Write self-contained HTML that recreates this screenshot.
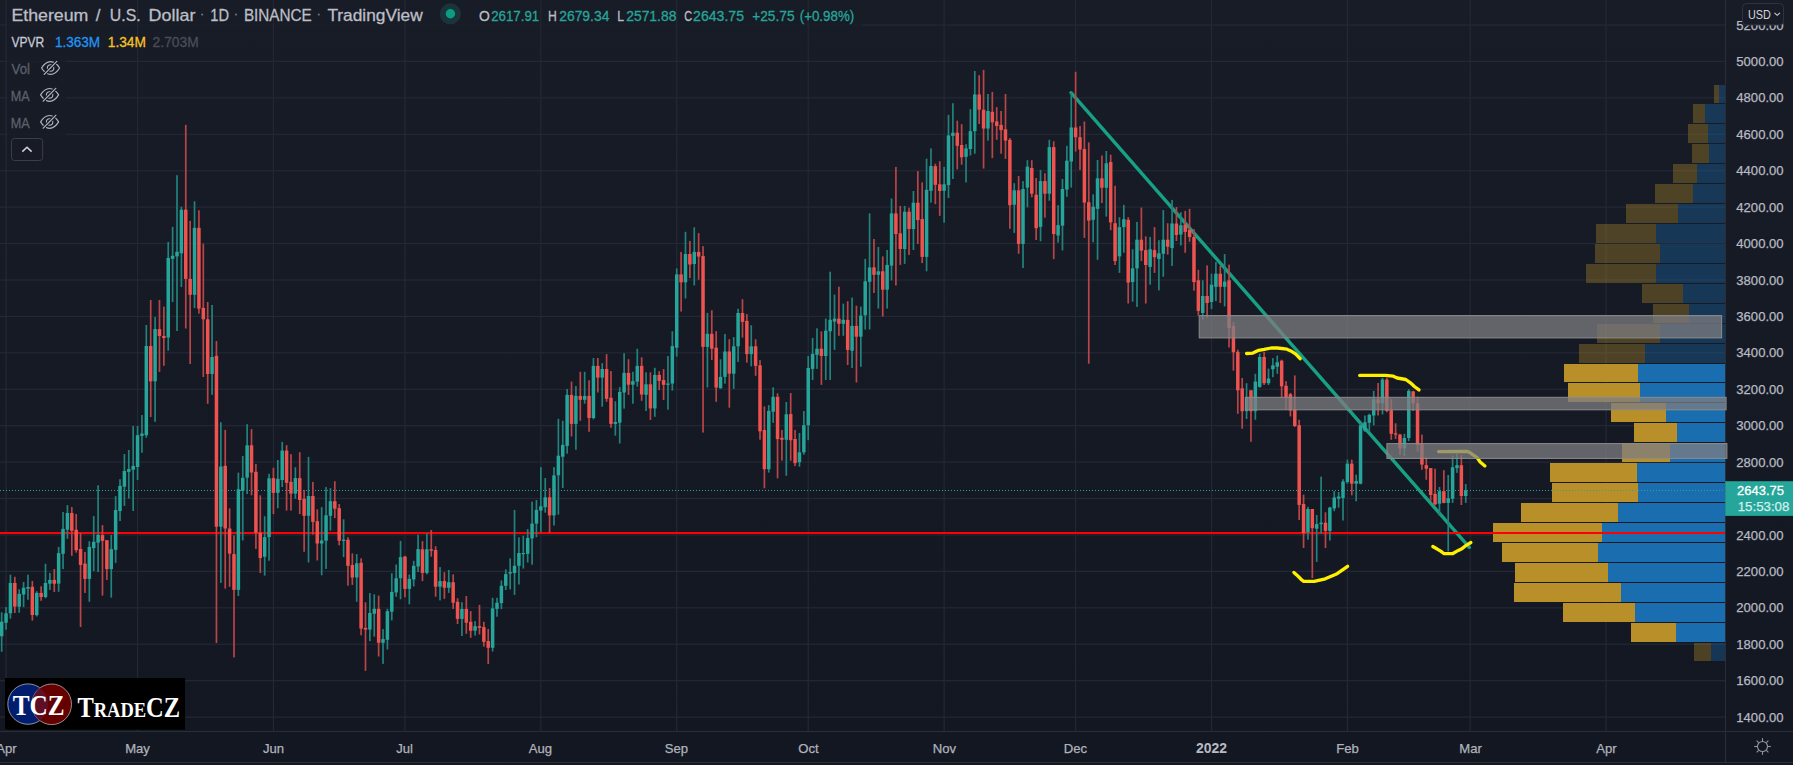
<!DOCTYPE html><html><head><meta charset="utf-8"><style>html,body{margin:0;padding:0;background:#181b26;overflow:hidden;width:1793px;height:765px;}svg{display:block} text{font-family:"Liberation Sans",Arial,sans-serif}</style></head><body>
<svg width="1793" height="765" viewBox="0 0 1793 765">
<defs><linearGradient id="bgg" gradientUnits="userSpaceOnUse" x1="0" y1="0" x2="0" y2="765"><stop offset="0" stop-color="#181c27"/><stop offset="1" stop-color="#131722"/></linearGradient></defs>
<rect width="1793" height="765" fill="url(#bgg)"/>
<rect x="0" y="24.4" width="7" height="1.2" fill="#242835"/>
<rect x="7" y="24.4" width="855" height="1.2" fill="#242835" fill-opacity="0.3"/>
<rect x="862" y="24.4" width="863" height="1.2" fill="#242835"/>
<rect x="0" y="60.8" width="7" height="1.2" fill="#242835"/>
<rect x="7" y="60.8" width="59" height="1.2" fill="#242835" fill-opacity="0.3"/>
<rect x="66" y="60.8" width="1659" height="1.2" fill="#242835"/>
<rect x="0" y="97.2" width="7" height="1.2" fill="#242835"/>
<rect x="7" y="97.2" width="59" height="1.2" fill="#242835" fill-opacity="0.3"/>
<rect x="66" y="97.2" width="1659" height="1.2" fill="#242835"/>
<rect x="0" y="133.7" width="7" height="1.2" fill="#242835"/>
<rect x="7" y="133.7" width="59" height="1.2" fill="#242835" fill-opacity="0.3"/>
<rect x="66" y="133.7" width="1659" height="1.2" fill="#242835"/>
<rect x="0" y="170.1" width="1725" height="1.2" fill="#242835"/>
<rect x="0" y="206.5" width="1725" height="1.2" fill="#242835"/>
<rect x="0" y="242.9" width="1725" height="1.2" fill="#242835"/>
<rect x="0" y="279.4" width="1725" height="1.2" fill="#242835"/>
<rect x="0" y="315.8" width="1725" height="1.2" fill="#242835"/>
<rect x="0" y="352.2" width="1725" height="1.2" fill="#242835"/>
<rect x="0" y="388.7" width="1725" height="1.2" fill="#242835"/>
<rect x="0" y="425.1" width="1725" height="1.2" fill="#242835"/>
<rect x="0" y="461.5" width="1725" height="1.2" fill="#242835"/>
<rect x="0" y="497.9" width="1725" height="1.2" fill="#242835"/>
<rect x="0" y="534.4" width="1725" height="1.2" fill="#242835"/>
<rect x="0" y="570.8" width="1725" height="1.2" fill="#242835"/>
<rect x="0" y="607.2" width="1725" height="1.2" fill="#242835"/>
<rect x="0" y="643.6" width="1725" height="1.2" fill="#242835"/>
<rect x="0" y="680.1" width="1725" height="1.2" fill="#242835"/>
<rect x="0" y="716.5" width="1725" height="1.2" fill="#242835"/>
<rect x="5.45" y="0" width="1.2" height="731" fill="#242835"/>
<rect x="136.96" y="0" width="1.2" height="731" fill="#242835"/>
<rect x="272.84" y="0" width="1.2" height="731" fill="#242835"/>
<rect x="404.35" y="0" width="1.2" height="731" fill="#242835"/>
<rect x="540.24" y="0" width="1.2" height="731" fill="#242835"/>
<rect x="676.13" y="0" width="1.2" height="731" fill="#242835"/>
<rect x="807.63" y="0" width="1.2" height="731" fill="#242835"/>
<rect x="943.52" y="0" width="1.2" height="731" fill="#242835"/>
<rect x="1075.02" y="0" width="1.2" height="731" fill="#242835"/>
<rect x="1210.91" y="0" width="1.2" height="731" fill="#242835"/>
<rect x="1346.80" y="0" width="1.2" height="731" fill="#242835"/>
<rect x="1469.54" y="0" width="1.2" height="731" fill="#242835"/>
<rect x="1605.43" y="0" width="1.2" height="731" fill="#242835"/>
<rect x="1714" y="85" width="5" height="18" fill="rgba(184,143,41,0.35)"/>
<rect x="1719" y="85" width="6" height="18" fill="rgba(26,109,174,0.36)"/>
<rect x="1693" y="104" width="12" height="19" fill="rgba(184,143,41,0.35)"/>
<rect x="1705" y="104" width="20" height="19" fill="rgba(26,109,174,0.36)"/>
<rect x="1688" y="124" width="20" height="19" fill="rgba(184,143,41,0.35)"/>
<rect x="1708" y="124" width="17" height="19" fill="rgba(26,109,174,0.36)"/>
<rect x="1692" y="144" width="17" height="19" fill="rgba(184,143,41,0.35)"/>
<rect x="1709" y="144" width="16" height="19" fill="rgba(26,109,174,0.36)"/>
<rect x="1673" y="164" width="24" height="19" fill="rgba(184,143,41,0.35)"/>
<rect x="1697" y="164" width="28" height="19" fill="rgba(26,109,174,0.36)"/>
<rect x="1655" y="184" width="38" height="19" fill="rgba(184,143,41,0.35)"/>
<rect x="1693" y="184" width="32" height="19" fill="rgba(26,109,174,0.36)"/>
<rect x="1626" y="204" width="52" height="19" fill="rgba(184,143,41,0.35)"/>
<rect x="1678" y="204" width="47" height="19" fill="rgba(26,109,174,0.36)"/>
<rect x="1596" y="224" width="60" height="19" fill="rgba(184,143,41,0.35)"/>
<rect x="1656" y="224" width="69" height="19" fill="rgba(26,109,174,0.36)"/>
<rect x="1595" y="244" width="65" height="19" fill="rgba(184,143,41,0.35)"/>
<rect x="1660" y="244" width="65" height="19" fill="rgba(26,109,174,0.36)"/>
<rect x="1586" y="264" width="70" height="19" fill="rgba(184,143,41,0.35)"/>
<rect x="1656" y="264" width="69" height="19" fill="rgba(26,109,174,0.36)"/>
<rect x="1642" y="284" width="41" height="19" fill="rgba(184,143,41,0.35)"/>
<rect x="1683" y="284" width="42" height="19" fill="rgba(26,109,174,0.36)"/>
<rect x="1653" y="304" width="36" height="19" fill="rgba(184,143,41,0.35)"/>
<rect x="1689" y="304" width="36" height="19" fill="rgba(26,109,174,0.36)"/>
<rect x="1597" y="324" width="63" height="19" fill="rgba(184,143,41,0.35)"/>
<rect x="1660" y="324" width="65" height="19" fill="rgba(26,109,174,0.36)"/>
<rect x="1579" y="344" width="66" height="19" fill="rgba(184,143,41,0.35)"/>
<rect x="1645" y="344" width="80" height="19" fill="rgba(26,109,174,0.36)"/>
<rect x="1564" y="364" width="74" height="18" fill="#b88f29"/>
<rect x="1638" y="364" width="87" height="18" fill="#1a6dae"/>
<rect x="1568" y="383" width="72" height="19" fill="#b88f29"/>
<rect x="1640" y="383" width="85" height="19" fill="#1a6dae"/>
<rect x="1611" y="403" width="55" height="19" fill="#b88f29"/>
<rect x="1666" y="403" width="59" height="19" fill="#1a6dae"/>
<rect x="1634" y="423" width="43" height="19" fill="#b88f29"/>
<rect x="1677" y="423" width="48" height="19" fill="#1a6dae"/>
<rect x="1622" y="443" width="48" height="19" fill="#b88f29"/>
<rect x="1670" y="443" width="55" height="19" fill="#1a6dae"/>
<rect x="1550" y="463" width="87" height="19" fill="#b88f29"/>
<rect x="1637" y="463" width="88" height="19" fill="#1a6dae"/>
<rect x="1552" y="483" width="86" height="19" fill="#b88f29"/>
<rect x="1638" y="483" width="87" height="19" fill="#1a6dae"/>
<rect x="1521" y="503" width="97" height="19" fill="#b88f29"/>
<rect x="1618" y="503" width="107" height="19" fill="#1a6dae"/>
<rect x="1493" y="523" width="109" height="19" fill="#b88f29"/>
<rect x="1602" y="523" width="123" height="19" fill="#1a6dae"/>
<rect x="1502" y="543" width="96" height="19" fill="#b88f29"/>
<rect x="1598" y="543" width="127" height="19" fill="#1a6dae"/>
<rect x="1515" y="563" width="93" height="19" fill="#b88f29"/>
<rect x="1608" y="563" width="117" height="19" fill="#1a6dae"/>
<rect x="1514" y="583" width="107" height="19" fill="#b88f29"/>
<rect x="1621" y="583" width="104" height="19" fill="#1a6dae"/>
<rect x="1563" y="603" width="72" height="19" fill="#b88f29"/>
<rect x="1635" y="603" width="90" height="19" fill="#1a6dae"/>
<rect x="1631" y="623" width="45" height="19" fill="#b88f29"/>
<rect x="1676" y="623" width="49" height="19" fill="#1a6dae"/>
<rect x="1694" y="643" width="17" height="18" fill="rgba(184,143,41,0.35)"/>
<rect x="1711" y="643" width="14" height="18" fill="rgba(26,109,174,0.36)"/>
<rect x="1725" y="0" width="1" height="763" fill="#2a2e39"/>
<line x1="0" y1="490.5" x2="1725" y2="490.5" stroke="#26a69a" stroke-width="1" stroke-dasharray="1,2"/>
<line x1="1071" y1="92.7" x2="1469.3" y2="547.3" stroke="#18a084" stroke-width="3.4" stroke-linecap="round"/>
<rect x="0" y="532" width="1725" height="2" fill="#ff0000"/>
<rect x="0.82" y="612.3" width="1.7" height="39.5" fill="#22827c"/>
<rect x="-0.08" y="621.7" width="3.5" height="14.6" fill="#26a69a"/>
<rect x="5.20" y="607.1" width="1.7" height="22.6" fill="#22827c"/>
<rect x="4.30" y="613.3" width="3.5" height="9.4" fill="#26a69a"/>
<rect x="9.58" y="574.7" width="1.7" height="43.9" fill="#22827c"/>
<rect x="8.68" y="583.0" width="3.5" height="30.3" fill="#26a69a"/>
<rect x="13.97" y="576.8" width="1.7" height="36.2" fill="#b84547"/>
<rect x="13.07" y="583.0" width="3.5" height="23.6" fill="#ef5350"/>
<rect x="18.35" y="589.3" width="1.7" height="23.4" fill="#22827c"/>
<rect x="17.45" y="593.9" width="3.5" height="12.8" fill="#26a69a"/>
<rect x="22.73" y="582.0" width="1.7" height="25.1" fill="#22827c"/>
<rect x="21.83" y="587.8" width="3.5" height="6.7" fill="#26a69a"/>
<rect x="27.12" y="574.7" width="1.7" height="25.1" fill="#22827c"/>
<rect x="26.22" y="587.0" width="3.5" height="1.7" fill="#26a69a"/>
<rect x="31.50" y="580.9" width="1.7" height="39.7" fill="#b84547"/>
<rect x="30.60" y="586.8" width="3.5" height="28.2" fill="#ef5350"/>
<rect x="35.88" y="591.2" width="1.7" height="25.3" fill="#22827c"/>
<rect x="34.98" y="592.9" width="3.5" height="22.2" fill="#26a69a"/>
<rect x="40.27" y="586.2" width="1.7" height="14.6" fill="#b84547"/>
<rect x="39.37" y="592.9" width="3.5" height="4.2" fill="#ef5350"/>
<rect x="44.65" y="563.8" width="1.7" height="34.5" fill="#22827c"/>
<rect x="43.75" y="583.0" width="3.5" height="14.0" fill="#26a69a"/>
<rect x="49.03" y="573.0" width="1.7" height="16.9" fill="#22827c"/>
<rect x="48.13" y="579.9" width="3.5" height="3.8" fill="#26a69a"/>
<rect x="53.42" y="569.0" width="1.7" height="23.0" fill="#b84547"/>
<rect x="52.52" y="579.9" width="3.5" height="3.8" fill="#ef5350"/>
<rect x="57.80" y="546.9" width="1.7" height="44.9" fill="#22827c"/>
<rect x="56.90" y="553.1" width="3.5" height="30.5" fill="#26a69a"/>
<rect x="62.19" y="512.0" width="1.7" height="57.1" fill="#22827c"/>
<rect x="61.29" y="528.9" width="3.5" height="24.9" fill="#26a69a"/>
<rect x="66.57" y="505.1" width="1.7" height="33.7" fill="#22827c"/>
<rect x="65.67" y="513.0" width="3.5" height="16.7" fill="#26a69a"/>
<rect x="70.95" y="507.1" width="1.7" height="48.7" fill="#b84547"/>
<rect x="70.05" y="513.0" width="3.5" height="17.8" fill="#ef5350"/>
<rect x="75.34" y="514.0" width="1.7" height="38.7" fill="#b84547"/>
<rect x="74.44" y="529.7" width="3.5" height="20.5" fill="#ef5350"/>
<rect x="79.72" y="532.9" width="1.7" height="94.1" fill="#b84547"/>
<rect x="78.82" y="549.0" width="3.5" height="15.9" fill="#ef5350"/>
<rect x="84.10" y="551.9" width="1.7" height="41.0" fill="#b84547"/>
<rect x="83.20" y="563.6" width="3.5" height="15.3" fill="#ef5350"/>
<rect x="88.49" y="541.2" width="1.7" height="60.6" fill="#22827c"/>
<rect x="87.59" y="546.9" width="3.5" height="32.0" fill="#26a69a"/>
<rect x="92.87" y="516.1" width="1.7" height="55.0" fill="#22827c"/>
<rect x="91.97" y="541.8" width="3.5" height="6.3" fill="#26a69a"/>
<rect x="97.25" y="485.3" width="1.7" height="86.7" fill="#22827c"/>
<rect x="96.35" y="534.9" width="3.5" height="7.7" fill="#26a69a"/>
<rect x="101.64" y="525.1" width="1.7" height="70.5" fill="#b84547"/>
<rect x="100.74" y="535.1" width="3.5" height="5.8" fill="#ef5350"/>
<rect x="106.02" y="540.2" width="1.7" height="39.7" fill="#b84547"/>
<rect x="105.12" y="540.2" width="3.5" height="28.9" fill="#ef5350"/>
<rect x="110.40" y="534.9" width="1.7" height="62.7" fill="#22827c"/>
<rect x="109.50" y="549.2" width="3.5" height="19.9" fill="#26a69a"/>
<rect x="114.79" y="496.1" width="1.7" height="66.8" fill="#22827c"/>
<rect x="113.89" y="510.0" width="3.5" height="39.8" fill="#26a69a"/>
<rect x="119.17" y="479.2" width="1.7" height="41.8" fill="#22827c"/>
<rect x="118.27" y="485.9" width="3.5" height="25.1" fill="#26a69a"/>
<rect x="123.55" y="454.0" width="1.7" height="51.9" fill="#22827c"/>
<rect x="122.65" y="471.0" width="3.5" height="15.7" fill="#26a69a"/>
<rect x="127.94" y="450.0" width="1.7" height="48.5" fill="#22827c"/>
<rect x="127.04" y="469.1" width="3.5" height="2.7" fill="#26a69a"/>
<rect x="132.32" y="426.0" width="1.7" height="85.0" fill="#22827c"/>
<rect x="131.42" y="466.0" width="3.5" height="3.7" fill="#26a69a"/>
<rect x="136.71" y="426.0" width="1.7" height="54.0" fill="#22827c"/>
<rect x="135.81" y="435.2" width="3.5" height="31.8" fill="#26a69a"/>
<rect x="141.09" y="415.0" width="1.7" height="37.8" fill="#22827c"/>
<rect x="140.19" y="433.5" width="3.5" height="2.4" fill="#26a69a"/>
<rect x="145.47" y="325.0" width="1.7" height="112.8" fill="#22827c"/>
<rect x="144.57" y="346.0" width="3.5" height="89.2" fill="#26a69a"/>
<rect x="149.86" y="300.0" width="1.7" height="117.0" fill="#b84547"/>
<rect x="148.96" y="346.0" width="3.5" height="35.3" fill="#ef5350"/>
<rect x="154.24" y="317.0" width="1.7" height="104.8" fill="#22827c"/>
<rect x="153.34" y="329.0" width="3.5" height="52.3" fill="#26a69a"/>
<rect x="158.62" y="300.0" width="1.7" height="71.9" fill="#b84547"/>
<rect x="157.72" y="329.1" width="3.5" height="6.9" fill="#ef5350"/>
<rect x="163.01" y="306.6" width="1.7" height="59.2" fill="#b84547"/>
<rect x="162.11" y="336.0" width="3.5" height="2.0" fill="#ef5350"/>
<rect x="167.39" y="241.9" width="1.7" height="108.8" fill="#22827c"/>
<rect x="166.49" y="257.9" width="3.5" height="79.6" fill="#26a69a"/>
<rect x="171.77" y="226.9" width="1.7" height="75.2" fill="#22827c"/>
<rect x="170.87" y="255.8" width="3.5" height="3.0" fill="#26a69a"/>
<rect x="176.16" y="175.2" width="1.7" height="155.8" fill="#22827c"/>
<rect x="175.26" y="251.8" width="3.5" height="4.6" fill="#26a69a"/>
<rect x="180.54" y="206.7" width="1.7" height="80.3" fill="#22827c"/>
<rect x="179.64" y="209.7" width="3.5" height="43.6" fill="#26a69a"/>
<rect x="184.92" y="124.9" width="1.7" height="203.6" fill="#b84547"/>
<rect x="184.02" y="209.7" width="3.5" height="69.2" fill="#ef5350"/>
<rect x="189.31" y="220.9" width="1.7" height="143.1" fill="#b84547"/>
<rect x="188.41" y="278.9" width="3.5" height="15.9" fill="#ef5350"/>
<rect x="193.69" y="201.3" width="1.7" height="106.8" fill="#22827c"/>
<rect x="192.79" y="227.8" width="3.5" height="67.0" fill="#26a69a"/>
<rect x="198.07" y="210.3" width="1.7" height="103.3" fill="#b84547"/>
<rect x="197.17" y="227.8" width="3.5" height="80.8" fill="#ef5350"/>
<rect x="202.46" y="243.7" width="1.7" height="133.3" fill="#b84547"/>
<rect x="201.56" y="307.9" width="3.5" height="11.4" fill="#ef5350"/>
<rect x="206.84" y="302.0" width="1.7" height="101.8" fill="#b84547"/>
<rect x="205.94" y="319.3" width="3.5" height="54.7" fill="#ef5350"/>
<rect x="211.22" y="305.0" width="1.7" height="89.8" fill="#22827c"/>
<rect x="210.32" y="357.0" width="3.5" height="17.0" fill="#26a69a"/>
<rect x="215.61" y="341.0" width="1.7" height="302.0" fill="#b84547"/>
<rect x="214.71" y="355.8" width="3.5" height="170.9" fill="#ef5350"/>
<rect x="219.99" y="422.2" width="1.7" height="160.7" fill="#22827c"/>
<rect x="219.09" y="466.5" width="3.5" height="60.2" fill="#26a69a"/>
<rect x="224.38" y="429.9" width="1.7" height="158.7" fill="#b84547"/>
<rect x="223.47" y="465.8" width="3.5" height="62.7" fill="#ef5350"/>
<rect x="228.76" y="508.4" width="1.7" height="78.4" fill="#b84547"/>
<rect x="227.86" y="528.5" width="3.5" height="25.1" fill="#ef5350"/>
<rect x="233.14" y="535.3" width="1.7" height="122.1" fill="#b84547"/>
<rect x="232.24" y="554.1" width="3.5" height="35.8" fill="#ef5350"/>
<rect x="237.53" y="472.6" width="1.7" height="123.4" fill="#22827c"/>
<rect x="236.63" y="489.3" width="3.5" height="100.6" fill="#26a69a"/>
<rect x="241.91" y="456.0" width="1.7" height="84.5" fill="#22827c"/>
<rect x="241.01" y="477.8" width="3.5" height="13.0" fill="#26a69a"/>
<rect x="246.29" y="424.2" width="1.7" height="69.8" fill="#22827c"/>
<rect x="245.39" y="445.3" width="3.5" height="32.3" fill="#26a69a"/>
<rect x="250.68" y="429.1" width="1.7" height="66.2" fill="#b84547"/>
<rect x="249.78" y="445.3" width="3.5" height="27.2" fill="#ef5350"/>
<rect x="255.06" y="464.0" width="1.7" height="84.9" fill="#b84547"/>
<rect x="254.16" y="471.8" width="3.5" height="60.9" fill="#ef5350"/>
<rect x="259.44" y="495.3" width="1.7" height="77.7" fill="#b84547"/>
<rect x="258.54" y="532.7" width="3.5" height="25.3" fill="#ef5350"/>
<rect x="263.83" y="516.2" width="1.7" height="59.4" fill="#22827c"/>
<rect x="262.93" y="537.1" width="3.5" height="19.6" fill="#26a69a"/>
<rect x="268.21" y="473.8" width="1.7" height="86.9" fill="#22827c"/>
<rect x="267.31" y="478.3" width="3.5" height="58.8" fill="#26a69a"/>
<rect x="272.59" y="467.8" width="1.7" height="46.3" fill="#b84547"/>
<rect x="271.69" y="478.1" width="3.5" height="14.8" fill="#ef5350"/>
<rect x="276.98" y="460.0" width="1.7" height="48.2" fill="#22827c"/>
<rect x="276.08" y="478.8" width="3.5" height="14.1" fill="#26a69a"/>
<rect x="281.36" y="441.9" width="1.7" height="45.1" fill="#22827c"/>
<rect x="280.46" y="450.6" width="3.5" height="29.4" fill="#26a69a"/>
<rect x="285.74" y="445.2" width="1.7" height="65.4" fill="#b84547"/>
<rect x="284.84" y="450.6" width="3.5" height="32.2" fill="#ef5350"/>
<rect x="290.13" y="454.1" width="1.7" height="56.5" fill="#b84547"/>
<rect x="289.23" y="481.9" width="3.5" height="11.7" fill="#ef5350"/>
<rect x="294.51" y="467.1" width="1.7" height="31.7" fill="#22827c"/>
<rect x="293.61" y="478.1" width="3.5" height="15.5" fill="#26a69a"/>
<rect x="298.89" y="452.2" width="1.7" height="61.9" fill="#b84547"/>
<rect x="297.99" y="478.1" width="3.5" height="21.9" fill="#ef5350"/>
<rect x="303.28" y="489.9" width="1.7" height="61.9" fill="#b84547"/>
<rect x="302.38" y="498.8" width="3.5" height="17.0" fill="#ef5350"/>
<rect x="307.66" y="456.9" width="1.7" height="105.5" fill="#22827c"/>
<rect x="306.76" y="496.0" width="3.5" height="19.8" fill="#26a69a"/>
<rect x="312.04" y="481.9" width="1.7" height="52.7" fill="#b84547"/>
<rect x="311.14" y="496.0" width="3.5" height="25.9" fill="#ef5350"/>
<rect x="316.43" y="509.4" width="1.7" height="51.1" fill="#b84547"/>
<rect x="315.53" y="521.2" width="3.5" height="22.3" fill="#ef5350"/>
<rect x="320.81" y="507.1" width="1.7" height="68.2" fill="#22827c"/>
<rect x="319.91" y="540.5" width="3.5" height="3.0" fill="#26a69a"/>
<rect x="325.20" y="487.1" width="1.7" height="81.8" fill="#22827c"/>
<rect x="324.30" y="515.3" width="3.5" height="25.4" fill="#26a69a"/>
<rect x="329.58" y="488.2" width="1.7" height="42.4" fill="#22827c"/>
<rect x="328.68" y="501.2" width="3.5" height="14.6" fill="#26a69a"/>
<rect x="333.96" y="481.2" width="1.7" height="36.9" fill="#b84547"/>
<rect x="333.06" y="501.2" width="3.5" height="7.5" fill="#ef5350"/>
<rect x="338.35" y="504.0" width="1.7" height="41.4" fill="#b84547"/>
<rect x="337.45" y="508.2" width="3.5" height="32.5" fill="#ef5350"/>
<rect x="342.73" y="519.3" width="1.7" height="37.8" fill="#22827c"/>
<rect x="341.83" y="539.7" width="3.5" height="1.3" fill="#26a69a"/>
<rect x="347.11" y="537.2" width="1.7" height="48.5" fill="#b84547"/>
<rect x="346.21" y="539.7" width="3.5" height="26.1" fill="#ef5350"/>
<rect x="351.50" y="553.4" width="1.7" height="31.5" fill="#b84547"/>
<rect x="350.60" y="565.0" width="3.5" height="12.5" fill="#ef5350"/>
<rect x="355.88" y="554.1" width="1.7" height="47.7" fill="#22827c"/>
<rect x="354.98" y="563.3" width="3.5" height="14.2" fill="#26a69a"/>
<rect x="360.26" y="558.3" width="1.7" height="77.0" fill="#b84547"/>
<rect x="359.36" y="562.8" width="3.5" height="65.8" fill="#ef5350"/>
<rect x="364.65" y="602.3" width="1.7" height="68.6" fill="#b84547"/>
<rect x="363.75" y="627.9" width="3.5" height="1.7" fill="#ef5350"/>
<rect x="369.03" y="593.1" width="1.7" height="48.0" fill="#22827c"/>
<rect x="368.13" y="613.0" width="3.5" height="16.6" fill="#26a69a"/>
<rect x="373.41" y="594.3" width="1.7" height="42.3" fill="#22827c"/>
<rect x="372.51" y="608.8" width="3.5" height="4.9" fill="#26a69a"/>
<rect x="377.80" y="595.6" width="1.7" height="60.9" fill="#b84547"/>
<rect x="376.90" y="608.8" width="3.5" height="34.0" fill="#ef5350"/>
<rect x="382.18" y="629.1" width="1.7" height="34.8" fill="#22827c"/>
<rect x="381.28" y="639.1" width="3.5" height="3.7" fill="#26a69a"/>
<rect x="386.56" y="608.8" width="1.7" height="40.7" fill="#22827c"/>
<rect x="385.66" y="611.2" width="3.5" height="28.6" fill="#26a69a"/>
<rect x="390.95" y="573.2" width="1.7" height="47.2" fill="#22827c"/>
<rect x="390.05" y="591.9" width="3.5" height="19.8" fill="#26a69a"/>
<rect x="395.33" y="564.5" width="1.7" height="32.3" fill="#22827c"/>
<rect x="394.43" y="578.2" width="3.5" height="14.2" fill="#26a69a"/>
<rect x="399.71" y="540.9" width="1.7" height="58.4" fill="#22827c"/>
<rect x="398.81" y="557.1" width="3.5" height="21.1" fill="#26a69a"/>
<rect x="404.10" y="555.8" width="1.7" height="41.5" fill="#b84547"/>
<rect x="403.20" y="556.6" width="3.5" height="32.3" fill="#ef5350"/>
<rect x="408.48" y="574.5" width="1.7" height="29.8" fill="#22827c"/>
<rect x="407.58" y="578.9" width="3.5" height="10.0" fill="#26a69a"/>
<rect x="412.87" y="560.8" width="1.7" height="25.6" fill="#22827c"/>
<rect x="411.97" y="565.8" width="3.5" height="13.6" fill="#26a69a"/>
<rect x="417.25" y="534.7" width="1.7" height="37.3" fill="#22827c"/>
<rect x="416.35" y="549.1" width="3.5" height="17.4" fill="#26a69a"/>
<rect x="421.63" y="541.1" width="1.7" height="40.0" fill="#b84547"/>
<rect x="420.73" y="549.3" width="3.5" height="23.6" fill="#ef5350"/>
<rect x="426.02" y="533.3" width="1.7" height="41.1" fill="#22827c"/>
<rect x="425.12" y="549.3" width="3.5" height="23.6" fill="#26a69a"/>
<rect x="430.40" y="530.0" width="1.7" height="26.7" fill="#b84547"/>
<rect x="429.50" y="549.3" width="3.5" height="1.4" fill="#ef5350"/>
<rect x="434.78" y="546.2" width="1.7" height="50.5" fill="#b84547"/>
<rect x="433.88" y="550.0" width="3.5" height="36.7" fill="#ef5350"/>
<rect x="439.17" y="567.1" width="1.7" height="33.3" fill="#22827c"/>
<rect x="438.27" y="581.1" width="3.5" height="5.6" fill="#26a69a"/>
<rect x="443.55" y="572.2" width="1.7" height="26.7" fill="#b84547"/>
<rect x="442.65" y="581.1" width="3.5" height="6.7" fill="#ef5350"/>
<rect x="447.93" y="570.0" width="1.7" height="22.9" fill="#22827c"/>
<rect x="447.03" y="582.2" width="3.5" height="5.6" fill="#26a69a"/>
<rect x="452.32" y="574.4" width="1.7" height="34.5" fill="#b84547"/>
<rect x="451.42" y="582.2" width="3.5" height="20.5" fill="#ef5350"/>
<rect x="456.70" y="598.2" width="1.7" height="25.8" fill="#b84547"/>
<rect x="455.80" y="601.8" width="3.5" height="17.1" fill="#ef5350"/>
<rect x="461.08" y="602.2" width="1.7" height="33.8" fill="#22827c"/>
<rect x="460.18" y="608.9" width="3.5" height="10.0" fill="#26a69a"/>
<rect x="465.47" y="596.0" width="1.7" height="37.8" fill="#b84547"/>
<rect x="464.57" y="608.9" width="3.5" height="13.8" fill="#ef5350"/>
<rect x="469.85" y="611.1" width="1.7" height="26.7" fill="#b84547"/>
<rect x="468.95" y="621.8" width="3.5" height="8.9" fill="#ef5350"/>
<rect x="474.23" y="621.1" width="1.7" height="14.5" fill="#22827c"/>
<rect x="473.33" y="626.2" width="3.5" height="4.5" fill="#26a69a"/>
<rect x="478.62" y="604.9" width="1.7" height="29.5" fill="#b84547"/>
<rect x="477.72" y="626.2" width="3.5" height="1.6" fill="#ef5350"/>
<rect x="483.00" y="621.8" width="1.7" height="24.9" fill="#b84547"/>
<rect x="482.10" y="627.1" width="3.5" height="14.7" fill="#ef5350"/>
<rect x="487.38" y="628.9" width="1.7" height="35.1" fill="#b84547"/>
<rect x="486.48" y="641.1" width="3.5" height="6.7" fill="#ef5350"/>
<rect x="491.77" y="597.8" width="1.7" height="53.8" fill="#22827c"/>
<rect x="490.87" y="608.4" width="3.5" height="39.4" fill="#26a69a"/>
<rect x="496.15" y="597.8" width="1.7" height="18.9" fill="#22827c"/>
<rect x="495.25" y="602.7" width="3.5" height="6.2" fill="#26a69a"/>
<rect x="500.54" y="580.4" width="1.7" height="28.7" fill="#22827c"/>
<rect x="499.64" y="585.8" width="3.5" height="17.3" fill="#26a69a"/>
<rect x="504.92" y="569.4" width="1.7" height="20.6" fill="#22827c"/>
<rect x="504.02" y="574.1" width="3.5" height="11.7" fill="#26a69a"/>
<rect x="509.30" y="558.4" width="1.7" height="31.0" fill="#22827c"/>
<rect x="508.40" y="572.1" width="3.5" height="1.4" fill="#26a69a"/>
<rect x="513.69" y="509.9" width="1.7" height="85.0" fill="#22827c"/>
<rect x="512.79" y="565.8" width="3.5" height="7.2" fill="#26a69a"/>
<rect x="518.07" y="537.3" width="1.7" height="47.2" fill="#22827c"/>
<rect x="517.17" y="553.0" width="3.5" height="12.8" fill="#26a69a"/>
<rect x="522.45" y="535.7" width="1.7" height="32.9" fill="#22827c"/>
<rect x="521.55" y="553.0" width="3.5" height="1.2" fill="#26a69a"/>
<rect x="526.84" y="529.1" width="1.7" height="33.4" fill="#22827c"/>
<rect x="525.94" y="537.9" width="3.5" height="15.9" fill="#26a69a"/>
<rect x="531.22" y="501.7" width="1.7" height="63.0" fill="#22827c"/>
<rect x="530.32" y="523.6" width="3.5" height="14.8" fill="#26a69a"/>
<rect x="535.60" y="500.0" width="1.7" height="37.3" fill="#22827c"/>
<rect x="534.70" y="509.9" width="3.5" height="13.7" fill="#26a69a"/>
<rect x="539.99" y="467.1" width="1.7" height="65.3" fill="#22827c"/>
<rect x="539.09" y="506.3" width="3.5" height="4.2" fill="#26a69a"/>
<rect x="544.37" y="478.1" width="1.7" height="34.6" fill="#22827c"/>
<rect x="543.47" y="497.3" width="3.5" height="9.9" fill="#26a69a"/>
<rect x="548.75" y="488.0" width="1.7" height="44.9" fill="#b84547"/>
<rect x="547.85" y="497.3" width="3.5" height="18.1" fill="#ef5350"/>
<rect x="553.14" y="467.1" width="1.7" height="58.4" fill="#22827c"/>
<rect x="552.24" y="475.4" width="3.5" height="40.0" fill="#26a69a"/>
<rect x="557.52" y="418.8" width="1.7" height="95.8" fill="#22827c"/>
<rect x="556.62" y="455.7" width="3.5" height="19.6" fill="#26a69a"/>
<rect x="561.90" y="420.8" width="1.7" height="67.2" fill="#22827c"/>
<rect x="561.00" y="444.9" width="3.5" height="11.8" fill="#26a69a"/>
<rect x="566.29" y="389.0" width="1.7" height="64.7" fill="#22827c"/>
<rect x="565.39" y="394.9" width="3.5" height="51.0" fill="#26a69a"/>
<rect x="570.67" y="381.6" width="1.7" height="54.9" fill="#b84547"/>
<rect x="569.77" y="394.9" width="3.5" height="29.0" fill="#ef5350"/>
<rect x="575.05" y="386.1" width="1.7" height="63.7" fill="#22827c"/>
<rect x="574.15" y="395.9" width="3.5" height="28.0" fill="#26a69a"/>
<rect x="579.44" y="371.8" width="1.7" height="49.0" fill="#b84547"/>
<rect x="578.54" y="395.9" width="3.5" height="3.9" fill="#ef5350"/>
<rect x="583.82" y="371.8" width="1.7" height="31.9" fill="#22827c"/>
<rect x="582.92" y="395.9" width="3.5" height="3.9" fill="#26a69a"/>
<rect x="588.21" y="380.2" width="1.7" height="51.6" fill="#b84547"/>
<rect x="587.31" y="395.9" width="3.5" height="22.1" fill="#ef5350"/>
<rect x="592.59" y="358.0" width="1.7" height="61.4" fill="#22827c"/>
<rect x="591.69" y="365.9" width="3.5" height="52.1" fill="#26a69a"/>
<rect x="596.97" y="358.0" width="1.7" height="34.5" fill="#b84547"/>
<rect x="596.07" y="365.9" width="3.5" height="11.7" fill="#ef5350"/>
<rect x="601.36" y="363.1" width="1.7" height="43.6" fill="#22827c"/>
<rect x="600.46" y="369.0" width="3.5" height="8.6" fill="#26a69a"/>
<rect x="605.74" y="354.1" width="1.7" height="47.7" fill="#b84547"/>
<rect x="604.84" y="369.0" width="3.5" height="29.8" fill="#ef5350"/>
<rect x="610.12" y="371.0" width="1.7" height="56.8" fill="#b84547"/>
<rect x="609.22" y="397.8" width="3.5" height="26.1" fill="#ef5350"/>
<rect x="614.51" y="401.2" width="1.7" height="34.5" fill="#22827c"/>
<rect x="613.61" y="422.0" width="3.5" height="1.9" fill="#26a69a"/>
<rect x="618.89" y="387.1" width="1.7" height="56.4" fill="#22827c"/>
<rect x="617.99" y="392.0" width="3.5" height="30.7" fill="#26a69a"/>
<rect x="623.27" y="353.3" width="1.7" height="55.3" fill="#22827c"/>
<rect x="622.37" y="372.9" width="3.5" height="19.6" fill="#26a69a"/>
<rect x="627.66" y="359.2" width="1.7" height="35.7" fill="#b84547"/>
<rect x="626.76" y="372.9" width="3.5" height="11.8" fill="#ef5350"/>
<rect x="632.04" y="371.8" width="1.7" height="31.9" fill="#22827c"/>
<rect x="631.14" y="381.2" width="3.5" height="3.5" fill="#26a69a"/>
<rect x="636.42" y="348.8" width="1.7" height="37.9" fill="#22827c"/>
<rect x="635.52" y="365.9" width="3.5" height="15.7" fill="#26a69a"/>
<rect x="640.81" y="357.3" width="1.7" height="43.5" fill="#b84547"/>
<rect x="639.91" y="365.9" width="3.5" height="28.6" fill="#ef5350"/>
<rect x="645.19" y="372.3" width="1.7" height="38.7" fill="#22827c"/>
<rect x="644.29" y="384.3" width="3.5" height="10.5" fill="#26a69a"/>
<rect x="649.57" y="372.3" width="1.7" height="47.7" fill="#b84547"/>
<rect x="648.67" y="384.3" width="3.5" height="24.1" fill="#ef5350"/>
<rect x="653.96" y="367.8" width="1.7" height="49.0" fill="#22827c"/>
<rect x="653.06" y="374.9" width="3.5" height="33.5" fill="#26a69a"/>
<rect x="658.34" y="371.2" width="1.7" height="18.9" fill="#b84547"/>
<rect x="657.44" y="374.9" width="3.5" height="6.0" fill="#ef5350"/>
<rect x="662.72" y="369.1" width="1.7" height="30.9" fill="#b84547"/>
<rect x="661.82" y="380.1" width="3.5" height="4.7" fill="#ef5350"/>
<rect x="667.11" y="356.0" width="1.7" height="53.7" fill="#22827c"/>
<rect x="666.21" y="383.5" width="3.5" height="1.3" fill="#26a69a"/>
<rect x="671.49" y="331.2" width="1.7" height="59.4" fill="#22827c"/>
<rect x="670.59" y="346.1" width="3.5" height="37.4" fill="#26a69a"/>
<rect x="675.88" y="268.4" width="1.7" height="88.2" fill="#22827c"/>
<rect x="674.98" y="274.4" width="3.5" height="73.3" fill="#26a69a"/>
<rect x="680.26" y="251.9" width="1.7" height="59.7" fill="#b84547"/>
<rect x="679.36" y="274.4" width="3.5" height="7.9" fill="#ef5350"/>
<rect x="684.64" y="231.8" width="1.7" height="66.7" fill="#22827c"/>
<rect x="683.74" y="254.0" width="3.5" height="28.3" fill="#26a69a"/>
<rect x="689.03" y="240.9" width="1.7" height="37.2" fill="#b84547"/>
<rect x="688.13" y="254.0" width="3.5" height="10.5" fill="#ef5350"/>
<rect x="693.41" y="227.3" width="1.7" height="58.1" fill="#22827c"/>
<rect x="692.51" y="251.9" width="3.5" height="12.1" fill="#26a69a"/>
<rect x="697.79" y="233.1" width="1.7" height="46.6" fill="#b84547"/>
<rect x="696.89" y="251.9" width="3.5" height="4.7" fill="#ef5350"/>
<rect x="702.18" y="246.2" width="1.7" height="186.4" fill="#b84547"/>
<rect x="701.28" y="256.1" width="3.5" height="90.8" fill="#ef5350"/>
<rect x="706.56" y="312.9" width="1.7" height="74.6" fill="#22827c"/>
<rect x="705.66" y="333.8" width="3.5" height="13.1" fill="#26a69a"/>
<rect x="710.94" y="310.3" width="1.7" height="49.7" fill="#b84547"/>
<rect x="710.04" y="333.8" width="3.5" height="14.9" fill="#ef5350"/>
<rect x="715.33" y="331.2" width="1.7" height="70.6" fill="#b84547"/>
<rect x="714.43" y="347.7" width="3.5" height="39.8" fill="#ef5350"/>
<rect x="719.71" y="359.3" width="1.7" height="29.6" fill="#22827c"/>
<rect x="718.81" y="376.9" width="3.5" height="11.2" fill="#26a69a"/>
<rect x="724.09" y="334.0" width="1.7" height="49.7" fill="#22827c"/>
<rect x="723.19" y="351.5" width="3.5" height="25.4" fill="#26a69a"/>
<rect x="728.48" y="339.2" width="1.7" height="68.5" fill="#b84547"/>
<rect x="727.58" y="351.5" width="3.5" height="22.2" fill="#ef5350"/>
<rect x="732.86" y="337.1" width="1.7" height="51.8" fill="#22827c"/>
<rect x="731.96" y="346.3" width="3.5" height="27.4" fill="#26a69a"/>
<rect x="737.24" y="308.8" width="1.7" height="53.1" fill="#22827c"/>
<rect x="736.34" y="313.0" width="3.5" height="33.3" fill="#26a69a"/>
<rect x="741.63" y="299.2" width="1.7" height="38.4" fill="#b84547"/>
<rect x="740.73" y="313.0" width="3.5" height="8.9" fill="#ef5350"/>
<rect x="746.01" y="314.1" width="1.7" height="48.6" fill="#b84547"/>
<rect x="745.11" y="320.9" width="3.5" height="33.2" fill="#ef5350"/>
<rect x="750.39" y="325.3" width="1.7" height="41.1" fill="#22827c"/>
<rect x="749.49" y="346.3" width="3.5" height="7.8" fill="#26a69a"/>
<rect x="754.78" y="339.2" width="1.7" height="36.6" fill="#b84547"/>
<rect x="753.88" y="346.3" width="3.5" height="19.6" fill="#ef5350"/>
<rect x="759.16" y="360.1" width="1.7" height="79.6" fill="#b84547"/>
<rect x="758.26" y="365.4" width="3.5" height="65.9" fill="#ef5350"/>
<rect x="763.55" y="406.4" width="1.7" height="81.9" fill="#b84547"/>
<rect x="762.65" y="430.0" width="3.5" height="39.2" fill="#ef5350"/>
<rect x="767.93" y="405.1" width="1.7" height="67.5" fill="#22827c"/>
<rect x="767.03" y="410.9" width="3.5" height="58.3" fill="#26a69a"/>
<rect x="772.31" y="387.3" width="1.7" height="35.6" fill="#22827c"/>
<rect x="771.41" y="396.8" width="3.5" height="14.9" fill="#26a69a"/>
<rect x="776.70" y="393.3" width="1.7" height="85.1" fill="#b84547"/>
<rect x="775.80" y="396.8" width="3.5" height="42.3" fill="#ef5350"/>
<rect x="781.08" y="430.0" width="1.7" height="30.6" fill="#b84547"/>
<rect x="780.18" y="437.8" width="3.5" height="1.9" fill="#ef5350"/>
<rect x="785.46" y="402.0" width="1.7" height="73.8" fill="#22827c"/>
<rect x="784.56" y="414.3" width="3.5" height="25.4" fill="#26a69a"/>
<rect x="789.85" y="393.0" width="1.7" height="67.7" fill="#b84547"/>
<rect x="788.95" y="414.1" width="3.5" height="26.1" fill="#ef5350"/>
<rect x="794.23" y="430.0" width="1.7" height="36.1" fill="#b84547"/>
<rect x="793.33" y="439.0" width="3.5" height="24.1" fill="#ef5350"/>
<rect x="798.61" y="433.0" width="1.7" height="33.7" fill="#22827c"/>
<rect x="797.71" y="452.3" width="3.5" height="9.9" fill="#26a69a"/>
<rect x="803.00" y="411.0" width="1.7" height="43.7" fill="#22827c"/>
<rect x="802.10" y="425.2" width="3.5" height="27.1" fill="#26a69a"/>
<rect x="807.38" y="356.0" width="1.7" height="84.2" fill="#22827c"/>
<rect x="806.48" y="368.0" width="3.5" height="57.2" fill="#26a69a"/>
<rect x="811.76" y="337.9" width="1.7" height="42.1" fill="#22827c"/>
<rect x="810.86" y="353.9" width="3.5" height="15.0" fill="#26a69a"/>
<rect x="816.15" y="328.3" width="1.7" height="40.6" fill="#22827c"/>
<rect x="815.25" y="348.7" width="3.5" height="6.1" fill="#26a69a"/>
<rect x="820.53" y="331.3" width="1.7" height="53.6" fill="#b84547"/>
<rect x="819.63" y="348.7" width="3.5" height="7.3" fill="#ef5350"/>
<rect x="824.91" y="318.6" width="1.7" height="61.4" fill="#22827c"/>
<rect x="824.01" y="330.7" width="3.5" height="25.3" fill="#26a69a"/>
<rect x="829.30" y="271.7" width="1.7" height="108.3" fill="#22827c"/>
<rect x="828.40" y="319.8" width="3.5" height="11.5" fill="#26a69a"/>
<rect x="833.68" y="294.6" width="1.7" height="55.3" fill="#22827c"/>
<rect x="832.78" y="318.6" width="3.5" height="3.0" fill="#26a69a"/>
<rect x="838.06" y="286.7" width="1.7" height="49.1" fill="#b84547"/>
<rect x="837.16" y="318.6" width="3.5" height="5.2" fill="#ef5350"/>
<rect x="842.45" y="303.6" width="1.7" height="32.2" fill="#22827c"/>
<rect x="841.55" y="319.8" width="3.5" height="4.0" fill="#26a69a"/>
<rect x="846.83" y="301.2" width="1.7" height="63.8" fill="#b84547"/>
<rect x="845.93" y="319.8" width="3.5" height="30.1" fill="#ef5350"/>
<rect x="851.22" y="297.6" width="1.7" height="70.4" fill="#22827c"/>
<rect x="850.32" y="325.9" width="3.5" height="24.9" fill="#26a69a"/>
<rect x="855.60" y="305.7" width="1.7" height="76.8" fill="#b84547"/>
<rect x="854.70" y="325.9" width="3.5" height="10.8" fill="#ef5350"/>
<rect x="859.98" y="306.6" width="1.7" height="60.2" fill="#22827c"/>
<rect x="859.08" y="315.6" width="3.5" height="21.1" fill="#26a69a"/>
<rect x="864.37" y="258.9" width="1.7" height="70.6" fill="#22827c"/>
<rect x="863.47" y="281.3" width="3.5" height="34.0" fill="#26a69a"/>
<rect x="868.75" y="213.4" width="1.7" height="116.1" fill="#22827c"/>
<rect x="867.85" y="267.4" width="3.5" height="14.4" fill="#26a69a"/>
<rect x="873.13" y="239.0" width="1.7" height="54.0" fill="#b84547"/>
<rect x="872.23" y="267.4" width="3.5" height="7.4" fill="#ef5350"/>
<rect x="877.52" y="247.0" width="1.7" height="61.6" fill="#22827c"/>
<rect x="876.62" y="271.3" width="3.5" height="3.5" fill="#26a69a"/>
<rect x="881.90" y="256.4" width="1.7" height="60.2" fill="#b84547"/>
<rect x="881.00" y="271.3" width="3.5" height="18.4" fill="#ef5350"/>
<rect x="886.28" y="250.0" width="1.7" height="58.6" fill="#22827c"/>
<rect x="885.38" y="264.9" width="3.5" height="24.8" fill="#26a69a"/>
<rect x="890.67" y="198.5" width="1.7" height="82.0" fill="#22827c"/>
<rect x="889.77" y="213.4" width="3.5" height="52.2" fill="#26a69a"/>
<rect x="895.05" y="166.9" width="1.7" height="118.6" fill="#b84547"/>
<rect x="894.15" y="213.4" width="3.5" height="20.6" fill="#ef5350"/>
<rect x="899.43" y="205.9" width="1.7" height="59.0" fill="#b84547"/>
<rect x="898.53" y="233.3" width="3.5" height="15.7" fill="#ef5350"/>
<rect x="903.82" y="205.9" width="1.7" height="58.0" fill="#22827c"/>
<rect x="902.92" y="211.7" width="3.5" height="37.3" fill="#26a69a"/>
<rect x="908.20" y="207.7" width="1.7" height="47.2" fill="#b84547"/>
<rect x="907.30" y="211.7" width="3.5" height="17.3" fill="#ef5350"/>
<rect x="912.58" y="191.0" width="1.7" height="59.0" fill="#22827c"/>
<rect x="911.68" y="202.7" width="3.5" height="26.3" fill="#26a69a"/>
<rect x="916.97" y="171.1" width="1.7" height="72.9" fill="#b84547"/>
<rect x="916.07" y="202.7" width="3.5" height="17.4" fill="#ef5350"/>
<rect x="921.35" y="182.3" width="1.7" height="80.8" fill="#b84547"/>
<rect x="920.45" y="219.1" width="3.5" height="37.8" fill="#ef5350"/>
<rect x="925.73" y="158.7" width="1.7" height="112.6" fill="#22827c"/>
<rect x="924.83" y="189.8" width="3.5" height="67.1" fill="#26a69a"/>
<rect x="930.12" y="148.4" width="1.7" height="54.2" fill="#22827c"/>
<rect x="929.22" y="166.0" width="3.5" height="24.8" fill="#26a69a"/>
<rect x="934.50" y="163.7" width="1.7" height="40.5" fill="#b84547"/>
<rect x="933.60" y="166.2" width="3.5" height="18.6" fill="#ef5350"/>
<rect x="938.89" y="161.2" width="1.7" height="54.7" fill="#b84547"/>
<rect x="937.99" y="184.3" width="3.5" height="6.7" fill="#ef5350"/>
<rect x="943.27" y="166.8" width="1.7" height="55.9" fill="#22827c"/>
<rect x="942.37" y="184.3" width="3.5" height="6.5" fill="#26a69a"/>
<rect x="947.65" y="114.9" width="1.7" height="83.2" fill="#22827c"/>
<rect x="946.75" y="135.4" width="3.5" height="49.7" fill="#26a69a"/>
<rect x="952.04" y="103.2" width="1.7" height="75.8" fill="#22827c"/>
<rect x="951.14" y="132.7" width="3.5" height="3.2" fill="#26a69a"/>
<rect x="956.42" y="120.7" width="1.7" height="48.7" fill="#b84547"/>
<rect x="955.52" y="132.7" width="3.5" height="13.1" fill="#ef5350"/>
<rect x="960.80" y="124.1" width="1.7" height="40.6" fill="#b84547"/>
<rect x="959.90" y="145.0" width="3.5" height="12.3" fill="#ef5350"/>
<rect x="965.19" y="144.2" width="1.7" height="38.2" fill="#22827c"/>
<rect x="964.29" y="148.4" width="3.5" height="8.4" fill="#26a69a"/>
<rect x="969.57" y="109.2" width="1.7" height="46.3" fill="#22827c"/>
<rect x="968.67" y="131.2" width="3.5" height="17.8" fill="#26a69a"/>
<rect x="973.95" y="71.0" width="1.7" height="82.7" fill="#22827c"/>
<rect x="973.05" y="94.5" width="3.5" height="36.7" fill="#26a69a"/>
<rect x="978.34" y="75.2" width="1.7" height="48.9" fill="#b84547"/>
<rect x="977.44" y="94.5" width="3.5" height="15.2" fill="#ef5350"/>
<rect x="982.72" y="69.9" width="1.7" height="98.7" fill="#b84547"/>
<rect x="981.82" y="109.7" width="3.5" height="18.8" fill="#ef5350"/>
<rect x="987.10" y="94.0" width="1.7" height="46.6" fill="#22827c"/>
<rect x="986.20" y="111.0" width="3.5" height="17.5" fill="#26a69a"/>
<rect x="991.49" y="91.9" width="1.7" height="66.2" fill="#b84547"/>
<rect x="990.59" y="111.8" width="3.5" height="10.5" fill="#ef5350"/>
<rect x="995.87" y="107.1" width="1.7" height="32.7" fill="#b84547"/>
<rect x="994.97" y="121.5" width="3.5" height="4.4" fill="#ef5350"/>
<rect x="1000.25" y="111.0" width="1.7" height="42.7" fill="#b84547"/>
<rect x="999.35" y="124.9" width="3.5" height="5.2" fill="#ef5350"/>
<rect x="1004.64" y="94.0" width="1.7" height="64.9" fill="#b84547"/>
<rect x="1003.74" y="129.3" width="3.5" height="11.3" fill="#ef5350"/>
<rect x="1009.02" y="138.0" width="1.7" height="90.8" fill="#b84547"/>
<rect x="1008.12" y="139.8" width="3.5" height="65.4" fill="#ef5350"/>
<rect x="1013.40" y="183.2" width="1.7" height="49.7" fill="#22827c"/>
<rect x="1012.50" y="190.3" width="3.5" height="14.4" fill="#26a69a"/>
<rect x="1017.79" y="175.9" width="1.7" height="77.9" fill="#b84547"/>
<rect x="1016.89" y="190.3" width="3.5" height="53.6" fill="#ef5350"/>
<rect x="1022.17" y="181.1" width="1.7" height="86.9" fill="#22827c"/>
<rect x="1021.27" y="189.0" width="3.5" height="54.9" fill="#26a69a"/>
<rect x="1026.56" y="160.2" width="1.7" height="47.1" fill="#22827c"/>
<rect x="1025.66" y="166.7" width="3.5" height="20.9" fill="#26a69a"/>
<rect x="1030.94" y="160.2" width="1.7" height="37.1" fill="#b84547"/>
<rect x="1030.04" y="168.0" width="3.5" height="25.7" fill="#ef5350"/>
<rect x="1035.32" y="178.0" width="1.7" height="62.0" fill="#b84547"/>
<rect x="1034.42" y="194.7" width="3.5" height="33.5" fill="#ef5350"/>
<rect x="1039.71" y="170.1" width="1.7" height="71.2" fill="#22827c"/>
<rect x="1038.81" y="181.1" width="3.5" height="45.8" fill="#26a69a"/>
<rect x="1044.09" y="173.3" width="1.7" height="44.4" fill="#b84547"/>
<rect x="1043.19" y="181.1" width="3.5" height="12.6" fill="#ef5350"/>
<rect x="1048.47" y="139.8" width="1.7" height="60.9" fill="#22827c"/>
<rect x="1047.57" y="147.1" width="3.5" height="46.6" fill="#26a69a"/>
<rect x="1052.86" y="141.3" width="1.7" height="117.8" fill="#b84547"/>
<rect x="1051.96" y="147.1" width="3.5" height="86.9" fill="#ef5350"/>
<rect x="1057.24" y="205.2" width="1.7" height="37.4" fill="#22827c"/>
<rect x="1056.34" y="225.1" width="3.5" height="10.4" fill="#26a69a"/>
<rect x="1061.62" y="179.0" width="1.7" height="71.4" fill="#22827c"/>
<rect x="1060.72" y="189.0" width="3.5" height="36.6" fill="#26a69a"/>
<rect x="1066.01" y="145.8" width="1.7" height="51.0" fill="#22827c"/>
<rect x="1065.11" y="160.7" width="3.5" height="28.8" fill="#26a69a"/>
<rect x="1070.39" y="92.7" width="1.7" height="94.9" fill="#22827c"/>
<rect x="1069.49" y="127.5" width="3.5" height="34.0" fill="#26a69a"/>
<rect x="1074.77" y="71.8" width="1.7" height="79.8" fill="#b84547"/>
<rect x="1073.87" y="127.5" width="3.5" height="9.7" fill="#ef5350"/>
<rect x="1079.16" y="126.0" width="1.7" height="43.9" fill="#b84547"/>
<rect x="1078.26" y="137.2" width="3.5" height="12.3" fill="#ef5350"/>
<rect x="1083.54" y="121.5" width="1.7" height="116.4" fill="#b84547"/>
<rect x="1082.64" y="149.0" width="3.5" height="53.6" fill="#ef5350"/>
<rect x="1087.92" y="142.4" width="1.7" height="221.3" fill="#b84547"/>
<rect x="1087.02" y="202.2" width="3.5" height="18.4" fill="#ef5350"/>
<rect x="1092.31" y="194.4" width="1.7" height="47.9" fill="#22827c"/>
<rect x="1091.41" y="206.7" width="3.5" height="13.1" fill="#26a69a"/>
<rect x="1096.69" y="160.0" width="1.7" height="99.8" fill="#22827c"/>
<rect x="1095.79" y="178.3" width="3.5" height="30.5" fill="#26a69a"/>
<rect x="1101.08" y="155.5" width="1.7" height="47.5" fill="#b84547"/>
<rect x="1100.17" y="178.3" width="3.5" height="9.4" fill="#ef5350"/>
<rect x="1105.46" y="151.0" width="1.7" height="65.6" fill="#22827c"/>
<rect x="1104.56" y="163.3" width="3.5" height="24.5" fill="#26a69a"/>
<rect x="1109.84" y="154.7" width="1.7" height="75.5" fill="#b84547"/>
<rect x="1108.94" y="162.0" width="3.5" height="60.4" fill="#ef5350"/>
<rect x="1114.23" y="185.8" width="1.7" height="79.2" fill="#b84547"/>
<rect x="1113.33" y="223.2" width="3.5" height="37.9" fill="#ef5350"/>
<rect x="1118.61" y="217.2" width="1.7" height="55.7" fill="#22827c"/>
<rect x="1117.71" y="227.1" width="3.5" height="29.3" fill="#26a69a"/>
<rect x="1122.99" y="204.9" width="1.7" height="47.8" fill="#22827c"/>
<rect x="1122.09" y="219.2" width="3.5" height="7.9" fill="#26a69a"/>
<rect x="1127.38" y="217.2" width="1.7" height="86.3" fill="#b84547"/>
<rect x="1126.48" y="219.8" width="3.5" height="62.8" fill="#ef5350"/>
<rect x="1131.76" y="249.3" width="1.7" height="52.4" fill="#22827c"/>
<rect x="1130.86" y="268.4" width="3.5" height="13.6" fill="#26a69a"/>
<rect x="1136.14" y="221.9" width="1.7" height="85.0" fill="#22827c"/>
<rect x="1135.24" y="239.7" width="3.5" height="28.7" fill="#26a69a"/>
<rect x="1140.53" y="207.5" width="1.7" height="53.6" fill="#b84547"/>
<rect x="1139.63" y="239.7" width="3.5" height="10.9" fill="#ef5350"/>
<rect x="1144.91" y="236.3" width="1.7" height="67.2" fill="#b84547"/>
<rect x="1144.01" y="250.1" width="3.5" height="14.9" fill="#ef5350"/>
<rect x="1149.29" y="237.0" width="1.7" height="47.7" fill="#22827c"/>
<rect x="1148.39" y="249.3" width="3.5" height="17.6" fill="#26a69a"/>
<rect x="1153.68" y="227.1" width="1.7" height="45.8" fill="#b84547"/>
<rect x="1152.78" y="250.1" width="3.5" height="7.1" fill="#ef5350"/>
<rect x="1158.06" y="240.2" width="1.7" height="50.2" fill="#22827c"/>
<rect x="1157.16" y="253.3" width="3.5" height="5.7" fill="#26a69a"/>
<rect x="1162.44" y="210.1" width="1.7" height="66.7" fill="#22827c"/>
<rect x="1161.54" y="239.7" width="3.5" height="14.1" fill="#26a69a"/>
<rect x="1166.83" y="223.2" width="1.7" height="31.4" fill="#b84547"/>
<rect x="1165.93" y="239.7" width="3.5" height="7.0" fill="#ef5350"/>
<rect x="1171.21" y="199.9" width="1.7" height="66.0" fill="#22827c"/>
<rect x="1170.31" y="223.5" width="3.5" height="24.6" fill="#26a69a"/>
<rect x="1175.59" y="207.0" width="1.7" height="34.0" fill="#b84547"/>
<rect x="1174.69" y="223.5" width="3.5" height="11.5" fill="#ef5350"/>
<rect x="1179.98" y="212.2" width="1.7" height="33.3" fill="#22827c"/>
<rect x="1179.08" y="225.3" width="3.5" height="9.2" fill="#26a69a"/>
<rect x="1184.36" y="210.9" width="1.7" height="41.9" fill="#b84547"/>
<rect x="1183.46" y="224.5" width="3.5" height="7.4" fill="#ef5350"/>
<rect x="1188.74" y="208.8" width="1.7" height="33.0" fill="#b84547"/>
<rect x="1187.84" y="229.8" width="3.5" height="7.3" fill="#ef5350"/>
<rect x="1193.13" y="229.2" width="1.7" height="61.5" fill="#b84547"/>
<rect x="1192.23" y="237.1" width="3.5" height="45.0" fill="#ef5350"/>
<rect x="1197.51" y="269.8" width="1.7" height="45.8" fill="#b84547"/>
<rect x="1196.61" y="280.3" width="3.5" height="30.6" fill="#ef5350"/>
<rect x="1201.90" y="280.3" width="1.7" height="39.2" fill="#22827c"/>
<rect x="1201.00" y="296.0" width="3.5" height="17.0" fill="#26a69a"/>
<rect x="1206.28" y="265.4" width="1.7" height="52.3" fill="#b84547"/>
<rect x="1205.38" y="296.0" width="3.5" height="7.0" fill="#ef5350"/>
<rect x="1210.66" y="273.7" width="1.7" height="35.3" fill="#22827c"/>
<rect x="1209.76" y="284.7" width="3.5" height="17.3" fill="#26a69a"/>
<rect x="1215.05" y="262.0" width="1.7" height="39.2" fill="#22827c"/>
<rect x="1214.15" y="273.7" width="3.5" height="13.1" fill="#26a69a"/>
<rect x="1219.43" y="265.9" width="1.7" height="37.1" fill="#b84547"/>
<rect x="1218.53" y="273.7" width="3.5" height="13.1" fill="#ef5350"/>
<rect x="1223.81" y="254.1" width="1.7" height="52.3" fill="#22827c"/>
<rect x="1222.91" y="281.6" width="3.5" height="5.2" fill="#26a69a"/>
<rect x="1228.20" y="264.6" width="1.7" height="82.9" fill="#b84547"/>
<rect x="1227.30" y="280.3" width="3.5" height="47.8" fill="#ef5350"/>
<rect x="1232.58" y="322.2" width="1.7" height="48.4" fill="#b84547"/>
<rect x="1231.68" y="326.2" width="3.5" height="26.1" fill="#ef5350"/>
<rect x="1236.96" y="349.7" width="1.7" height="64.1" fill="#b84547"/>
<rect x="1236.06" y="351.8" width="3.5" height="38.5" fill="#ef5350"/>
<rect x="1241.35" y="378.0" width="1.7" height="50.7" fill="#b84547"/>
<rect x="1240.45" y="388.4" width="3.5" height="22.8" fill="#ef5350"/>
<rect x="1245.73" y="383.2" width="1.7" height="35.8" fill="#22827c"/>
<rect x="1244.83" y="397.3" width="3.5" height="13.9" fill="#26a69a"/>
<rect x="1250.11" y="390.3" width="1.7" height="51.5" fill="#b84547"/>
<rect x="1249.21" y="390.3" width="3.5" height="20.9" fill="#ef5350"/>
<rect x="1254.50" y="373.8" width="1.7" height="46.0" fill="#22827c"/>
<rect x="1253.60" y="381.6" width="3.5" height="29.6" fill="#26a69a"/>
<rect x="1258.88" y="353.6" width="1.7" height="34.1" fill="#22827c"/>
<rect x="1257.98" y="357.0" width="3.5" height="29.9" fill="#26a69a"/>
<rect x="1263.26" y="351.8" width="1.7" height="33.2" fill="#b84547"/>
<rect x="1262.36" y="357.0" width="3.5" height="26.2" fill="#ef5350"/>
<rect x="1267.65" y="368.6" width="1.7" height="16.4" fill="#22827c"/>
<rect x="1266.75" y="378.5" width="3.5" height="4.7" fill="#26a69a"/>
<rect x="1272.03" y="358.1" width="1.7" height="19.1" fill="#22827c"/>
<rect x="1271.13" y="365.4" width="3.5" height="3.9" fill="#26a69a"/>
<rect x="1276.41" y="355.5" width="1.7" height="18.3" fill="#22827c"/>
<rect x="1275.51" y="362.3" width="3.5" height="4.4" fill="#26a69a"/>
<rect x="1280.80" y="359.7" width="1.7" height="37.6" fill="#b84547"/>
<rect x="1279.90" y="360.7" width="3.5" height="25.6" fill="#ef5350"/>
<rect x="1285.18" y="381.1" width="1.7" height="28.3" fill="#b84547"/>
<rect x="1284.28" y="385.8" width="3.5" height="11.5" fill="#ef5350"/>
<rect x="1289.57" y="392.9" width="1.7" height="23.5" fill="#b84547"/>
<rect x="1288.67" y="394.2" width="3.5" height="16.2" fill="#ef5350"/>
<rect x="1293.95" y="375.4" width="1.7" height="51.5" fill="#b84547"/>
<rect x="1293.05" y="409.9" width="3.5" height="16.2" fill="#ef5350"/>
<rect x="1298.33" y="419.8" width="1.7" height="100.2" fill="#b84547"/>
<rect x="1297.43" y="425.3" width="3.5" height="79.6" fill="#ef5350"/>
<rect x="1302.72" y="494.7" width="1.7" height="53.3" fill="#b84547"/>
<rect x="1301.82" y="504.0" width="3.5" height="29.1" fill="#ef5350"/>
<rect x="1307.10" y="506.8" width="1.7" height="32.9" fill="#22827c"/>
<rect x="1306.20" y="509.0" width="3.5" height="23.3" fill="#26a69a"/>
<rect x="1311.48" y="509.0" width="1.7" height="69.1" fill="#b84547"/>
<rect x="1310.58" y="509.0" width="3.5" height="19.2" fill="#ef5350"/>
<rect x="1315.87" y="515.0" width="1.7" height="46.9" fill="#22827c"/>
<rect x="1314.97" y="524.1" width="3.5" height="4.6" fill="#26a69a"/>
<rect x="1320.25" y="476.6" width="1.7" height="57.1" fill="#22827c"/>
<rect x="1319.35" y="522.7" width="3.5" height="1.4" fill="#26a69a"/>
<rect x="1324.63" y="512.3" width="1.7" height="35.7" fill="#b84547"/>
<rect x="1323.73" y="522.7" width="3.5" height="8.2" fill="#ef5350"/>
<rect x="1329.02" y="506.8" width="1.7" height="33.7" fill="#22827c"/>
<rect x="1328.12" y="507.6" width="3.5" height="23.3" fill="#26a69a"/>
<rect x="1333.40" y="491.1" width="1.7" height="20.1" fill="#22827c"/>
<rect x="1332.50" y="497.5" width="3.5" height="10.9" fill="#26a69a"/>
<rect x="1337.78" y="492.0" width="1.7" height="15.6" fill="#22827c"/>
<rect x="1336.88" y="496.6" width="3.5" height="2.0" fill="#26a69a"/>
<rect x="1342.17" y="479.3" width="1.7" height="41.2" fill="#22827c"/>
<rect x="1341.27" y="481.5" width="3.5" height="16.5" fill="#26a69a"/>
<rect x="1346.55" y="459.6" width="1.7" height="24.1" fill="#22827c"/>
<rect x="1345.65" y="463.7" width="3.5" height="18.4" fill="#26a69a"/>
<rect x="1350.93" y="459.6" width="1.7" height="35.7" fill="#b84547"/>
<rect x="1350.03" y="463.7" width="3.5" height="20.0" fill="#ef5350"/>
<rect x="1355.32" y="474.7" width="1.7" height="26.6" fill="#22827c"/>
<rect x="1354.42" y="481.0" width="3.5" height="2.7" fill="#26a69a"/>
<rect x="1359.70" y="422.5" width="1.7" height="61.8" fill="#22827c"/>
<rect x="1358.80" y="425.3" width="3.5" height="58.4" fill="#26a69a"/>
<rect x="1364.09" y="415.5" width="1.7" height="16.5" fill="#22827c"/>
<rect x="1363.18" y="422.3" width="3.5" height="8.3" fill="#26a69a"/>
<rect x="1368.47" y="413.6" width="1.7" height="18.4" fill="#22827c"/>
<rect x="1367.57" y="414.9" width="3.5" height="7.9" fill="#26a69a"/>
<rect x="1372.85" y="390.9" width="1.7" height="34.5" fill="#22827c"/>
<rect x="1371.95" y="399.2" width="3.5" height="16.3" fill="#26a69a"/>
<rect x="1377.24" y="383.0" width="1.7" height="32.5" fill="#b84547"/>
<rect x="1376.34" y="399.2" width="3.5" height="4.0" fill="#ef5350"/>
<rect x="1381.62" y="377.8" width="1.7" height="36.6" fill="#22827c"/>
<rect x="1380.72" y="379.6" width="3.5" height="23.6" fill="#26a69a"/>
<rect x="1386.00" y="377.8" width="1.7" height="34.5" fill="#b84547"/>
<rect x="1385.10" y="379.6" width="3.5" height="31.4" fill="#ef5350"/>
<rect x="1390.39" y="399.2" width="1.7" height="40.6" fill="#b84547"/>
<rect x="1389.49" y="410.2" width="3.5" height="23.6" fill="#ef5350"/>
<rect x="1394.77" y="423.3" width="1.7" height="15.7" fill="#b84547"/>
<rect x="1393.87" y="433.3" width="3.5" height="1.3" fill="#ef5350"/>
<rect x="1399.15" y="433.8" width="1.7" height="20.9" fill="#b84547"/>
<rect x="1398.25" y="434.6" width="3.5" height="13.8" fill="#ef5350"/>
<rect x="1403.54" y="433.8" width="1.7" height="22.5" fill="#22827c"/>
<rect x="1402.64" y="438.0" width="3.5" height="10.4" fill="#26a69a"/>
<rect x="1407.92" y="389.3" width="1.7" height="51.8" fill="#22827c"/>
<rect x="1407.02" y="390.9" width="3.5" height="47.1" fill="#26a69a"/>
<rect x="1412.30" y="390.9" width="1.7" height="20.1" fill="#b84547"/>
<rect x="1411.40" y="391.4" width="3.5" height="11.8" fill="#ef5350"/>
<rect x="1416.69" y="396.6" width="1.7" height="55.0" fill="#b84547"/>
<rect x="1415.79" y="403.2" width="3.5" height="41.8" fill="#ef5350"/>
<rect x="1421.07" y="434.6" width="1.7" height="35.2" fill="#b84547"/>
<rect x="1420.17" y="443.6" width="3.5" height="21.0" fill="#ef5350"/>
<rect x="1425.45" y="457.2" width="1.7" height="22.6" fill="#b84547"/>
<rect x="1424.55" y="465.2" width="3.5" height="3.5" fill="#ef5350"/>
<rect x="1429.84" y="468.1" width="1.7" height="33.1" fill="#b84547"/>
<rect x="1428.94" y="468.1" width="3.5" height="26.8" fill="#ef5350"/>
<rect x="1434.22" y="468.7" width="1.7" height="36.7" fill="#b84547"/>
<rect x="1433.32" y="493.9" width="3.5" height="10.4" fill="#ef5350"/>
<rect x="1438.60" y="487.0" width="1.7" height="28.9" fill="#22827c"/>
<rect x="1437.70" y="491.2" width="3.5" height="12.5" fill="#26a69a"/>
<rect x="1442.99" y="470.2" width="1.7" height="33.1" fill="#b84547"/>
<rect x="1442.09" y="491.2" width="3.5" height="11.7" fill="#ef5350"/>
<rect x="1447.37" y="475.0" width="1.7" height="76.5" fill="#22827c"/>
<rect x="1446.47" y="498.1" width="3.5" height="4.8" fill="#26a69a"/>
<rect x="1451.75" y="455.5" width="1.7" height="47.4" fill="#22827c"/>
<rect x="1450.85" y="467.3" width="3.5" height="31.4" fill="#26a69a"/>
<rect x="1456.14" y="453.5" width="1.7" height="19.4" fill="#22827c"/>
<rect x="1455.24" y="465.2" width="3.5" height="2.9" fill="#26a69a"/>
<rect x="1460.52" y="455.1" width="1.7" height="49.9" fill="#b84547"/>
<rect x="1459.62" y="465.2" width="3.5" height="30.8" fill="#ef5350"/>
<rect x="1464.91" y="484.0" width="1.7" height="18.9" fill="#22827c"/>
<rect x="1464.01" y="490.3" width="3.5" height="5.7" fill="#26a69a"/>
<polyline points="1246.6,353.5 1252.9,353.1 1258.7,350.3 1264.2,349.4 1271.2,348.0 1277.5,348.0 1286.9,349.2 1290.8,350.9 1295.8,354.1 1300.1,358.7" fill="none" stroke="#fff000" stroke-width="3.3" stroke-linecap="round" stroke-linejoin="round"/>
<polyline points="1293.9,572.4 1296.7,574.9 1301.8,580.0 1303.7,581.4 1314.3,581.4 1325.3,578.8 1337.1,573.7 1347.6,566.3" fill="none" stroke="#fff000" stroke-width="3.3" stroke-linecap="round" stroke-linejoin="round"/>
<polyline points="1359.7,375.4 1385.5,375.4 1393.3,376.2 1397.2,378.0 1405.8,379.5 1410.4,382.8 1414.7,386.7 1419.0,389.9" fill="none" stroke="#fff000" stroke-width="3.3" stroke-linecap="round" stroke-linejoin="round"/>
<polyline points="1438.6,451.6 1466.5,451.4 1469.2,452.2 1473.1,454.9 1477.1,457.6 1480.2,462.0 1484.9,465.9" fill="none" stroke="#fff000" stroke-width="3.3" stroke-linecap="round" stroke-linejoin="round"/>
<polyline points="1432.8,546.5 1436.8,548.8 1440.7,551.2 1443.8,553.5 1452.5,553.7 1458.3,550.4 1462.3,548.4 1466.2,545.3 1470.9,542.5" fill="none" stroke="#fff000" stroke-width="3.3" stroke-linecap="round" stroke-linejoin="round"/>
<rect x="1199.2" y="315.6" width="522.4" height="22.3" fill="rgba(126,126,130,0.75)" stroke="#8c8c8c" stroke-width="1"/>
<rect x="1245.4" y="397.3" width="480.7" height="12.5" fill="rgba(126,126,130,0.75)" stroke="#8c8c8c" stroke-width="1"/>
<rect x="1386.9" y="443.6" width="340.0" height="14.8" fill="rgba(126,126,130,0.75)" stroke="#8c8c8c" stroke-width="1"/>
<text x="1783.6" y="29.5" font-size="13.2" fill="#b7bac2" stroke="#b7bac2" stroke-width="0.25" text-anchor="end" textLength="47.3" lengthAdjust="spacingAndGlyphs">5200.00</text>
<text x="1783.6" y="65.9" font-size="13.2" fill="#b7bac2" stroke="#b7bac2" stroke-width="0.25" text-anchor="end" textLength="47.3" lengthAdjust="spacingAndGlyphs">5000.00</text>
<text x="1783.6" y="102.3" font-size="13.2" fill="#b7bac2" stroke="#b7bac2" stroke-width="0.25" text-anchor="end" textLength="47.3" lengthAdjust="spacingAndGlyphs">4800.00</text>
<text x="1783.6" y="138.8" font-size="13.2" fill="#b7bac2" stroke="#b7bac2" stroke-width="0.25" text-anchor="end" textLength="47.3" lengthAdjust="spacingAndGlyphs">4600.00</text>
<text x="1783.6" y="175.2" font-size="13.2" fill="#b7bac2" stroke="#b7bac2" stroke-width="0.25" text-anchor="end" textLength="47.3" lengthAdjust="spacingAndGlyphs">4400.00</text>
<text x="1783.6" y="211.6" font-size="13.2" fill="#b7bac2" stroke="#b7bac2" stroke-width="0.25" text-anchor="end" textLength="47.3" lengthAdjust="spacingAndGlyphs">4200.00</text>
<text x="1783.6" y="248.0" font-size="13.2" fill="#b7bac2" stroke="#b7bac2" stroke-width="0.25" text-anchor="end" textLength="47.3" lengthAdjust="spacingAndGlyphs">4000.00</text>
<text x="1783.6" y="284.5" font-size="13.2" fill="#b7bac2" stroke="#b7bac2" stroke-width="0.25" text-anchor="end" textLength="47.3" lengthAdjust="spacingAndGlyphs">3800.00</text>
<text x="1783.6" y="320.9" font-size="13.2" fill="#b7bac2" stroke="#b7bac2" stroke-width="0.25" text-anchor="end" textLength="47.3" lengthAdjust="spacingAndGlyphs">3600.00</text>
<text x="1783.6" y="357.3" font-size="13.2" fill="#b7bac2" stroke="#b7bac2" stroke-width="0.25" text-anchor="end" textLength="47.3" lengthAdjust="spacingAndGlyphs">3400.00</text>
<text x="1783.6" y="393.8" font-size="13.2" fill="#b7bac2" stroke="#b7bac2" stroke-width="0.25" text-anchor="end" textLength="47.3" lengthAdjust="spacingAndGlyphs">3200.00</text>
<text x="1783.6" y="430.2" font-size="13.2" fill="#b7bac2" stroke="#b7bac2" stroke-width="0.25" text-anchor="end" textLength="47.3" lengthAdjust="spacingAndGlyphs">3000.00</text>
<text x="1783.6" y="466.6" font-size="13.2" fill="#b7bac2" stroke="#b7bac2" stroke-width="0.25" text-anchor="end" textLength="47.3" lengthAdjust="spacingAndGlyphs">2800.00</text>
<text x="1783.6" y="539.5" font-size="13.2" fill="#b7bac2" stroke="#b7bac2" stroke-width="0.25" text-anchor="end" textLength="47.3" lengthAdjust="spacingAndGlyphs">2400.00</text>
<text x="1783.6" y="575.9" font-size="13.2" fill="#b7bac2" stroke="#b7bac2" stroke-width="0.25" text-anchor="end" textLength="47.3" lengthAdjust="spacingAndGlyphs">2200.00</text>
<text x="1783.6" y="612.3" font-size="13.2" fill="#b7bac2" stroke="#b7bac2" stroke-width="0.25" text-anchor="end" textLength="47.3" lengthAdjust="spacingAndGlyphs">2000.00</text>
<text x="1783.6" y="648.7" font-size="13.2" fill="#b7bac2" stroke="#b7bac2" stroke-width="0.25" text-anchor="end" textLength="47.3" lengthAdjust="spacingAndGlyphs">1800.00</text>
<text x="1783.6" y="685.2" font-size="13.2" fill="#b7bac2" stroke="#b7bac2" stroke-width="0.25" text-anchor="end" textLength="47.3" lengthAdjust="spacingAndGlyphs">1600.00</text>
<text x="1783.6" y="721.6" font-size="13.2" fill="#b7bac2" stroke="#b7bac2" stroke-width="0.25" text-anchor="end" textLength="47.3" lengthAdjust="spacingAndGlyphs">1400.00</text>
<rect x="1725.2" y="481.2" width="67.79999999999995" height="34.7" fill="#26a69a"/>
<text x="1737.1" y="495.3" font-size="13.2" fill="#ffffff" stroke="#ffffff" stroke-width="0.3" textLength="46.8" lengthAdjust="spacingAndGlyphs">2643.75</text>
<text x="1737.7" y="511.4" font-size="13.2" fill="#d4eeeb" stroke="#d4eeeb" stroke-width="0.25" textLength="51.7" lengthAdjust="spacingAndGlyphs">15:53:08</text>
<rect x="1742.5" y="3.5" width="41" height="21.4" rx="4" fill="url(#bgg)" stroke="#2f3340" stroke-width="1"/>
<text x="1747.9" y="18.8" font-size="13" fill="#d1d4dc" textLength="22.9" lengthAdjust="spacingAndGlyphs">USD</text>
<polyline points="1774.5,12.8 1777.2,15.3 1779.9,12.8" fill="none" stroke="#d1d4dc" stroke-width="1.1"/>
<rect x="0" y="731" width="1793" height="34" fill="url(#bgg)"/>
<rect x="0" y="731" width="1793" height="1" fill="#2a2e39"/>
<rect x="0" y="762" width="1793" height="1" fill="#2a2e39"/>
<rect x="1725" y="731" width="1" height="32" fill="#2a2e39"/>
<text x="6.5" y="752.6" font-size="13.1" fill="#b0b3bb" stroke="#b0b3bb" stroke-width="0.25" text-anchor="middle">Apr</text>
<text x="137.5" y="752.6" font-size="13.1" fill="#b0b3bb" stroke="#b0b3bb" stroke-width="0.25" text-anchor="middle">May</text>
<text x="273.5" y="752.6" font-size="13.1" fill="#b0b3bb" stroke="#b0b3bb" stroke-width="0.25" text-anchor="middle">Jun</text>
<text x="404.5" y="752.6" font-size="13.1" fill="#b0b3bb" stroke="#b0b3bb" stroke-width="0.25" text-anchor="middle">Jul</text>
<text x="540.5" y="752.6" font-size="13.1" fill="#b0b3bb" stroke="#b0b3bb" stroke-width="0.25" text-anchor="middle">Aug</text>
<text x="676.5" y="752.6" font-size="13.1" fill="#b0b3bb" stroke="#b0b3bb" stroke-width="0.25" text-anchor="middle">Sep</text>
<text x="808.5" y="752.6" font-size="13.1" fill="#b0b3bb" stroke="#b0b3bb" stroke-width="0.25" text-anchor="middle">Oct</text>
<text x="944.5" y="752.6" font-size="13.1" fill="#b0b3bb" stroke="#b0b3bb" stroke-width="0.25" text-anchor="middle">Nov</text>
<text x="1075.5" y="752.6" font-size="13.1" fill="#b0b3bb" stroke="#b0b3bb" stroke-width="0.25" text-anchor="middle">Dec</text>
<text x="1211.5" y="752.8" font-size="14.2" font-weight="700" fill="#b8bbc3" text-anchor="middle" textLength="31" lengthAdjust="spacingAndGlyphs">2022</text>
<text x="1347.5" y="752.6" font-size="13.1" fill="#b0b3bb" stroke="#b0b3bb" stroke-width="0.25" text-anchor="middle">Feb</text>
<text x="1470.5" y="752.6" font-size="13.1" fill="#b0b3bb" stroke="#b0b3bb" stroke-width="0.25" text-anchor="middle">Mar</text>
<text x="1606.5" y="752.6" font-size="13.1" fill="#b0b3bb" stroke="#b0b3bb" stroke-width="0.25" text-anchor="middle">Apr</text>
<circle cx="1762.5" cy="746.5" r="5" fill="none" stroke="#9598a1" stroke-width="1.1"/>
<line x1="1768.00" y1="746.50" x2="1770.80" y2="746.50" stroke="#9598a1" stroke-width="1.1"/>
<line x1="1766.39" y1="750.39" x2="1768.37" y2="752.37" stroke="#9598a1" stroke-width="1.1"/>
<line x1="1762.50" y1="752.00" x2="1762.50" y2="754.80" stroke="#9598a1" stroke-width="1.1"/>
<line x1="1758.61" y1="750.39" x2="1756.63" y2="752.37" stroke="#9598a1" stroke-width="1.1"/>
<line x1="1757.00" y1="746.50" x2="1754.20" y2="746.50" stroke="#9598a1" stroke-width="1.1"/>
<line x1="1758.61" y1="742.61" x2="1756.63" y2="740.63" stroke="#9598a1" stroke-width="1.1"/>
<line x1="1762.50" y1="741.00" x2="1762.50" y2="738.20" stroke="#9598a1" stroke-width="1.1"/>
<line x1="1766.39" y1="742.61" x2="1768.37" y2="740.63" stroke="#9598a1" stroke-width="1.1"/>
<text x="11.4" y="20.8" font-size="17" font-weight="400" fill="#bcbec6" stroke="#bcbec6" stroke-width="0.3" textLength="77" lengthAdjust="spacingAndGlyphs">Ethereum</text>
<text x="95.7" y="20.8" font-size="17" font-weight="400" fill="#bcbec6" stroke="#bcbec6" stroke-width="0.3" textLength="4.7" lengthAdjust="spacingAndGlyphs">/</text>
<text x="109.8" y="20.8" font-size="17" font-weight="400" fill="#bcbec6" stroke="#bcbec6" stroke-width="0.3" textLength="30.8" lengthAdjust="spacingAndGlyphs">U.S.</text>
<text x="148.6" y="20.8" font-size="17" font-weight="400" fill="#bcbec6" stroke="#bcbec6" stroke-width="0.3" textLength="46.8" lengthAdjust="spacingAndGlyphs">Dollar</text>
<circle cx="202.2" cy="14.6" r="1.1" fill="#6a6d78"/>
<circle cx="236" cy="14.6" r="1.1" fill="#6a6d78"/>
<circle cx="318.8" cy="14.6" r="1.1" fill="#6a6d78"/>
<text x="210.3" y="20.8" font-size="17" font-weight="400" fill="#bcbec6" stroke="#bcbec6" stroke-width="0.3" textLength="18.7" lengthAdjust="spacingAndGlyphs">1D</text>
<text x="243.9" y="20.8" font-size="17" font-weight="400" fill="#bcbec6" stroke="#bcbec6" stroke-width="0.3" textLength="67.9" lengthAdjust="spacingAndGlyphs">BINANCE</text>
<text x="327.4" y="20.8" font-size="17" font-weight="400" fill="#bcbec6" stroke="#bcbec6" stroke-width="0.3" textLength="95.3" lengthAdjust="spacingAndGlyphs">TradingView</text>
<circle cx="450.4" cy="13.8" r="10.5" fill="rgba(38,166,154,0.18)"/>
<circle cx="450.4" cy="13.8" r="4.7" fill="#0c9c82"/>
<text x="478.9" y="21.2" font-size="14.8" fill="#bcbec6" stroke="#bcbec6" stroke-width="0.3" textLength="10.8" lengthAdjust="spacingAndGlyphs">O</text>
<text x="491.2" y="21.2" font-size="14.8" fill="#26a69a" stroke="#26a69a" stroke-width="0.3" textLength="48" lengthAdjust="spacingAndGlyphs">2617.91</text>
<text x="548.1" y="21.2" font-size="14.8" fill="#bcbec6" stroke="#bcbec6" stroke-width="0.3" textLength="8.8" lengthAdjust="spacingAndGlyphs">H</text>
<text x="559.2" y="21.2" font-size="14.8" fill="#26a69a" stroke="#26a69a" stroke-width="0.3" textLength="50.2" lengthAdjust="spacingAndGlyphs">2679.34</text>
<text x="617.2" y="21.2" font-size="14.8" fill="#bcbec6" stroke="#bcbec6" stroke-width="0.3" textLength="6.8" lengthAdjust="spacingAndGlyphs">L</text>
<text x="626.2" y="21.2" font-size="14.8" fill="#26a69a" stroke="#26a69a" stroke-width="0.3" textLength="50.2" lengthAdjust="spacingAndGlyphs">2571.88</text>
<text x="684.2" y="21.2" font-size="14.8" fill="#bcbec6" stroke="#bcbec6" stroke-width="0.3" textLength="7.9" lengthAdjust="spacingAndGlyphs">C</text>
<text x="693.1" y="21.2" font-size="14.8" fill="#26a69a" stroke="#26a69a" stroke-width="0.3" textLength="50.9" lengthAdjust="spacingAndGlyphs">2643.75</text>
<text x="752.2" y="21.2" font-size="14.8" fill="#26a69a" stroke="#26a69a" stroke-width="0.3" textLength="42.4" lengthAdjust="spacingAndGlyphs">+25.75</text>
<text x="799.7" y="21.2" font-size="14.8" fill="#26a69a" stroke="#26a69a" stroke-width="0.3" textLength="54.5" lengthAdjust="spacingAndGlyphs">(+0.98%)</text>
<text x="11.4" y="46.9" font-size="14.8" font-weight="400" fill="#c8cad2" stroke="#c8cad2" stroke-width="0.3" textLength="32.8" lengthAdjust="spacingAndGlyphs">VPVR</text>
<text x="54.9" y="46.9" font-size="14.8" font-weight="400" fill="#2196f3" stroke="#2196f3" stroke-width="0.3" textLength="45.2" lengthAdjust="spacingAndGlyphs">1.363M</text>
<text x="107.8" y="46.9" font-size="14.8" font-weight="400" fill="#f7c325" stroke="#f7c325" stroke-width="0.3" textLength="38.1" lengthAdjust="spacingAndGlyphs">1.34M</text>
<text x="152.6" y="46.9" font-size="14.8" font-weight="400" fill="#4a4d57" stroke="#4a4d57" stroke-width="0.3" textLength="46.2" lengthAdjust="spacingAndGlyphs">2.703M</text>
<text x="11.6" y="74.1" font-size="14.8" font-weight="400" fill="#5d606b" stroke="#5d606b" stroke-width="0.3" textLength="18.4" lengthAdjust="spacingAndGlyphs">Vol</text>
<text x="10.8" y="101.1" font-size="14.8" font-weight="400" fill="#5d606b" stroke="#5d606b" stroke-width="0.3" textLength="19" lengthAdjust="spacingAndGlyphs">MA</text>
<text x="10.8" y="127.9" font-size="14.8" font-weight="400" fill="#5d606b" stroke="#5d606b" stroke-width="0.3" textLength="19" lengthAdjust="spacingAndGlyphs">MA</text>
<g fill="none" stroke-linecap="round"><path d="M41.6,68 C44.6,63 47.6,61.6 50.6,61.6 C53.6,61.6 56.6,63 59.6,68 C56.6,73 53.6,74.4 50.6,74.4 C47.6,74.4 44.6,73 41.6,68 Z" stroke="#b4b6be" stroke-width="1.15"/><circle cx="50.6" cy="68" r="3.2" stroke="#b4b6be" stroke-width="1.1"/><line x1="44.2" y1="74.3" x2="56.800000000000004" y2="61.4" stroke="#181c27" stroke-width="3.2"/><line x1="44.2" y1="74.3" x2="56.800000000000004" y2="61.4" stroke="#b4b6be" stroke-width="1.2"/></g>
<g fill="none" stroke-linecap="round"><path d="M40.6,94.9 C43.6,89.9 46.6,88.5 49.6,88.5 C52.6,88.5 55.6,89.9 58.6,94.9 C55.6,99.9 52.6,101.30000000000001 49.6,101.30000000000001 C46.6,101.30000000000001 43.6,99.9 40.6,94.9 Z" stroke="#b4b6be" stroke-width="1.15"/><circle cx="49.6" cy="94.9" r="3.2" stroke="#b4b6be" stroke-width="1.1"/><line x1="43.2" y1="101.2" x2="55.800000000000004" y2="88.30000000000001" stroke="#181c27" stroke-width="3.2"/><line x1="43.2" y1="101.2" x2="55.800000000000004" y2="88.30000000000001" stroke="#b4b6be" stroke-width="1.2"/></g>
<g fill="none" stroke-linecap="round"><path d="M40.6,121.9 C43.6,116.9 46.6,115.5 49.6,115.5 C52.6,115.5 55.6,116.9 58.6,121.9 C55.6,126.9 52.6,128.3 49.6,128.3 C46.6,128.3 43.6,126.9 40.6,121.9 Z" stroke="#b4b6be" stroke-width="1.15"/><circle cx="49.6" cy="121.9" r="3.2" stroke="#b4b6be" stroke-width="1.1"/><line x1="43.2" y1="128.20000000000002" x2="55.800000000000004" y2="115.30000000000001" stroke="#181c27" stroke-width="3.2"/><line x1="43.2" y1="128.20000000000002" x2="55.800000000000004" y2="115.30000000000001" stroke="#b4b6be" stroke-width="1.2"/></g>
<rect x="11.5" y="138.5" width="31.2" height="22" rx="3" fill="#181b26" stroke="#3a3e4a" stroke-width="1"/>
<polyline points="22.3,151.6 27,147.2 31.6,151.6" fill="none" stroke="#d1d4dc" stroke-width="1.5"/>
<rect x="5" y="678" width="180" height="51.6" fill="#000"/>
<ellipse cx="28" cy="704.1" rx="20.2" ry="20.2" fill="#021d6e" stroke="#c9c9c9" stroke-width="0.7"/>
<ellipse cx="51.7" cy="704.3" rx="19.8" ry="20.3" fill="#640000" stroke="#c9c9c9" stroke-width="0.7"/>
<path d="M46.6,704.2 A19.6,20.9 0 0 1 31.3,724.6" fill="none"/>
<clipPath id="cb"><ellipse cx="28" cy="704.1" rx="20.2" ry="20.2"/></clipPath>
<ellipse cx="51.7" cy="704.3" rx="19.8" ry="20.3" fill="#5e0f25" clip-path="url(#cb)"/>
<text x="12.7" y="715.2" font-family="Liberation Serif" font-size="29.5" font-weight="700" fill="#fff" textLength="51.9" lengthAdjust="spacingAndGlyphs" style="font-family:'Liberation Serif',serif">TCZ</text>
<text x="77.4" y="716.5" font-size="28.5" font-weight="700" fill="#fff" textLength="102.7" lengthAdjust="spacingAndGlyphs" style="font-family:'Liberation Serif',serif">T<tspan font-size="21.5">RADE</tspan>CZ</text>
</svg></body></html>
